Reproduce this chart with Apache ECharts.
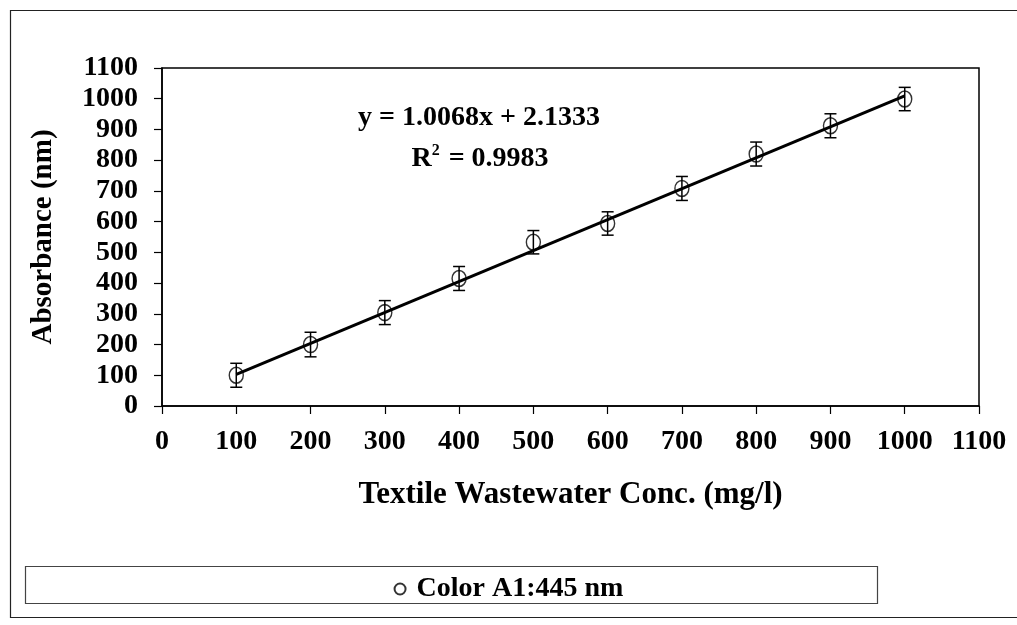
<!DOCTYPE html>
<html>
<head>
<meta charset="utf-8">
<style>
  html, body { margin: 0; padding: 0; background: #fff; }
  #chart { width: 1017px; height: 625px; }
</style>
<script src="https://cdn.jsdelivr.net/npm/echarts@6/dist/echarts.min.js"></script>
</head>
<body>
<div id="chart"></div>
<script>
// Calibration data: concentration (mg/l) vs absorbance reading
const concentrations = [100, 200, 300, 400, 500, 600, 700, 800, 900, 1000];
const absorbance = [100, 200, 304, 415, 533, 594, 708, 820, 912, 999];
const errorHalf = [39, 40, 39, 39, 38, 38, 39, 39, 39, 38];
const axisTicks = [0, 100, 200, 300, 400, 500, 600, 700, 800, 900, 1000, 1100];

// Linear fit reported on the chart
const fitSlope = 1.0068;
const fitIntercept = 2.1333;
const fitR2 = 0.9983;
const fitRange = [100, 1000];

const seriesName = 'Color A1:445 nm';
const FONT = '"Liberation Serif", "Times New Roman", serif';

const points = concentrations.map((x, i) => [x, absorbance[i]]);
const errorData = concentrations.map((x, i) => [x, absorbance[i] - errorHalf[i], absorbance[i] + errorHalf[i]]);
const fitLine = fitRange.map(x => [x, fitSlope * x + fitIntercept]);

const chart = echarts.init(document.getElementById('chart'), null, { renderer: 'canvas' });

const axisLabelStyle = {
  color: '#000', fontFamily: FONT, fontWeight: 'bold', fontSize: 28,
  formatter: v => String(v)
};

chart.setOption({
  animation: false,
  backgroundColor: '#fff',
  grid: {
    left: 162, top: 68, width: 817, height: 338,
    show: true, borderColor: '#000', borderWidth: 1.5, backgroundColor: 'transparent'
  },
  legend: {
    data: [{ name: seriesName, icon: 'circle' }],
    left: 'center',
    top: 570,
    itemWidth: 11, itemHeight: 13,
    itemGap: 14,
    textStyle: { color: '#000', fontFamily: FONT, fontWeight: 'bold', fontSize: 28, padding: [0, 0, 0, 6] }
  },
  xAxis: {
    type: 'value',
    min: axisTicks[0], max: axisTicks[axisTicks.length - 1], interval: 100,
    name: 'Textile Wastewater Conc. (mg/l)',
    nameLocation: 'middle', nameGap: 73,
    nameTextStyle: { color: '#000', fontFamily: FONT, fontWeight: 'bold', fontSize: 31 },
    axisLine: { onZero: false, lineStyle: { color: '#000', width: 1.5 } },
    axisTick: { show: true, inside: false, length: 8, lineStyle: { color: '#000', width: 1.2 } },
    axisLabel: Object.assign({ margin: 22 }, axisLabelStyle),
    splitLine: { show: false }
  },
  yAxis: {
    type: 'value',
    min: axisTicks[0], max: axisTicks[axisTicks.length - 1], interval: 100,
    name: 'Absorbance (nm)',
    nameLocation: 'middle', nameGap: 104, nameRotate: 90,
    nameTextStyle: { color: '#000', fontFamily: FONT, fontWeight: 'bold', fontSize: 29 },
    axisLine: { onZero: false, lineStyle: { color: '#000', width: 1.5 } },
    axisTick: { show: true, inside: false, length: 8, lineStyle: { color: '#000', width: 1.2 } },
    axisLabel: Object.assign({ margin: 24 }, axisLabelStyle),
    splitLine: { show: false }
  },
  graphic: [
    {
      // outer frame of the figure
      type: 'rect', silent: true, z: -1,
      shape: { x: 10.5, y: 10.5, width: 1020, height: 607 },
      style: { fill: 'none', stroke: '#222', lineWidth: 1.2 }
    },
    {
      // legend box
      type: 'rect', silent: true,
      shape: { x: 25.5, y: 566.5, width: 852, height: 37 },
      style: { fill: 'none', stroke: '#444', lineWidth: 1.2 }
    },
    {
      type: 'text', silent: true,
      x: 479, y: 118,
      style: {
        text: 'y = ' + fitSlope.toFixed(4) + 'x + ' + fitIntercept.toFixed(4),
        fill: '#000', font: 'bold 28px ' + FONT,
        align: 'center', verticalAlign: 'middle'
      }
    },
    {
      type: 'text', silent: true,
      x: 480, y: 158,
      style: {
        text: '{b|R}{s|2}{b| = ' + fitR2.toFixed(4) + '}',
        align: 'center', verticalAlign: 'middle',
        rich: {
          b: { fill: '#000', fontFamily: FONT, fontWeight: 'bold', fontSize: 28, verticalAlign: 'bottom' },
          s: { fill: '#000', fontFamily: FONT, fontWeight: 'bold', fontSize: 16, verticalAlign: 'top', padding: [0, 2, 14, 0] }
        }
      }
    }
  ],
  series: [
    {
      name: 'Linear fit',
      type: 'line',
      data: fitLine,
      symbol: 'none',
      lineStyle: { color: '#000', width: 3 },
      z: 3
    },
    {
      name: 'error',
      type: 'custom',
      data: errorData,
      z: 2,
      renderItem: function (params, api) {
        const x = api.value(0);
        const lo = api.coord([x, api.value(1)]);
        const hi = api.coord([x, api.value(2)]);
        const half = 6;
        const style = { stroke: '#000', lineWidth: 1.5, fill: 'none' };
        return {
          type: 'group',
          children: [
            { type: 'line', shape: { x1: lo[0], y1: lo[1], x2: hi[0], y2: hi[1] }, style: style },
            { type: 'line', shape: { x1: lo[0] - half, y1: lo[1], x2: lo[0] + half, y2: lo[1] }, style: style },
            { type: 'line', shape: { x1: hi[0] - half, y1: hi[1], x2: hi[0] + half, y2: hi[1] }, style: style }
          ]
        };
      }
    },
    {
      name: seriesName,
      type: 'scatter',
      data: points,
      symbol: 'circle',
      symbolSize: [14, 16],
      itemStyle: { color: 'rgba(255,255,255,0)', borderColor: '#000', borderWidth: 1.5 },
      z: 4
    }
  ]
});
</script>
</body>
</html>
